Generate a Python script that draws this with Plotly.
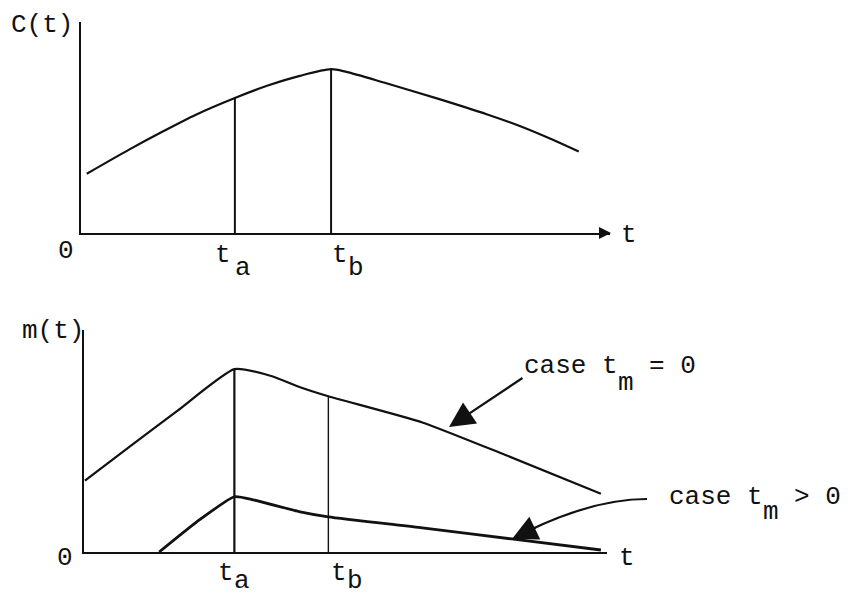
import plotly.graph_objects as go

W, H = 848, 596

# Characteristic times on the t axis
T_A = 3.2
T_B = 5.2

# Upper panel: C(t)
c_t = [0.12, 1.0, 1.7, 2.4, 3.2, 3.9, 4.55, 5.2, 5.5, 6.35, 7.4, 8.45, 9.15, 9.8, 10.35]
c_val = [2.95, 4.15, 5.05, 5.9, 6.72, 7.35, 7.82, 8.15, 8.03, 7.45, 6.7, 5.9, 5.3, 4.65, 4.05]

# Lower panel: m(t), case t_m = 0
m0_t = [0.02, 1.0, 2.0, 3.2, 4.0, 4.6, 5.2, 7.2, 9.0, 11.0]
m0_val = [3.55, 5.3, 7.05, 9.1, 8.75, 8.2, 7.75, 6.45, 4.8, 2.9]

# Lower panel: m(t), case t_m > 0
m1_t = [1.6, 2.4, 3.2, 3.6, 4.6, 5.2, 7.2, 9.1, 11.0]
m1_val = [0.0, 1.5, 2.75, 2.6, 2.0, 1.75, 1.2, 0.65, 0.1]

INK = "#111111"
FONT = "Liberation Mono, Courier New, monospace"
FS = 26
CW = FS * 0.6  # monospace advance width


def px(x):
    return x / W


def py(y):
    return 1 - y / H


def value_at(ts, vs, t):
    return vs[ts.index(t)]


fig = go.Figure()

guide = dict(mode="lines", hoverinfo="skip", showlegend=False)

# C(t) curve and its guides at t_a, t_b
fig.add_trace(go.Scatter(x=c_t, y=c_val, xaxis="x", yaxis="y", mode="lines",
                         line=dict(color=INK, width=2.2, shape="spline", smoothing=0.8),
                         hoverinfo="skip", showlegend=False))
for t in (T_A, T_B):
    fig.add_trace(go.Scatter(x=[t, t], y=[0, value_at(c_t, c_val, t)], xaxis="x", yaxis="y",
                             line=dict(color=INK, width=2), **guide))

# m(t) curves and guides
fig.add_trace(go.Scatter(x=m0_t, y=m0_val, xaxis="x2", yaxis="y2", mode="lines",
                         line=dict(color=INK, width=2.2, shape="spline", smoothing=0.5),
                         hoverinfo="skip", showlegend=False))
fig.add_trace(go.Scatter(x=m1_t, y=m1_val, xaxis="x2", yaxis="y2", mode="lines",
                         line=dict(color=INK, width=2.8, shape="spline", smoothing=0.5),
                         hoverinfo="skip", showlegend=False))
fig.add_trace(go.Scatter(x=[T_A, T_A], y=[-0.15, value_at(m0_t, m0_val, T_A)], xaxis="x2", yaxis="y2",
                         line=dict(color=INK, width=2.2), **guide))
fig.add_trace(go.Scatter(x=[T_B, T_B], y=[0, value_at(m0_t, m0_val, T_B)], xaxis="x2", yaxis="y2",
                         line=dict(color=INK, width=1.4), **guide))

axis_common = dict(showgrid=False, zeroline=False, showticklabels=False, ticks="",
                   showline=True, linecolor=INK, linewidth=2, fixedrange=True)

annotations = []


def text(s, x, y, xref="paper", xshift=0, xanchor="center"):
    annotations.append(dict(text=s, x=x, y=py(y), xref=xref, yref="paper", xshift=xshift,
                            xanchor=xanchor, yanchor="middle", showarrow=False,
                            borderpad=0, borderwidth=0,
                            font=dict(family=FONT, size=FS, color=INK)))


# Upper panel labels
text("C(t)", px(42), 25)
text("0", 0, 251, xref="x", xshift=-15)
text("t", T_A, 255, xref="x", xshift=-4, xanchor="right")
text("a", T_A, 268, xref="x", xshift=0, xanchor="left")
text("t", T_B, 255, xref="x", xshift=1, xanchor="left")
text("b", T_B, 268, xref="x", xshift=1 + CW, xanchor="left")
text("t", px(629), 235)

# Lower panel labels
text("m(t)", px(53), 331)
text("0", 0, 558, xref="x2", xshift=-19)
text("t", T_A, 573, xref="x2", xshift=0, xanchor="right")
text("a", T_A, 580.5, xref="x2", xshift=0, xanchor="left")
text("t", T_B, 573, xref="x2", xshift=3, xanchor="left")
text("b", T_B, 580.5, xref="x2", xshift=3 + CW, xanchor="left")
text("t", px(627), 558)

# Case labels with lowered subscript m
text("case t", px(524), 366, xanchor="left")
text("m", px(524 + 6 * CW), 383, xanchor="left")
text("= 0", px(524 + 8 * CW), 366, xanchor="left")
text("case t", px(669), 497, xanchor="left")
text("m", px(669 + 6 * CW), 512, xanchor="left")
text("> 0", px(669 + 8 * CW), 497, xanchor="left")

# Pointer arrows
annotations.append(dict(text="", x=px(449), y=py(427), xref="paper", yref="paper",
                        ax=75, ay=-50, showarrow=True, arrowhead=2, arrowsize=2.3,
                        arrowwidth=2.2, arrowcolor=INK))
annotations.append(dict(text="", x=px(512), y=py(539), xref="paper", yref="paper",
                        ax=25, ay=-12, showarrow=True, arrowhead=2, arrowsize=2.3,
                        arrowwidth=2.2, arrowcolor=INK))
# Arrowhead at the end of the upper t axis
annotations.append(dict(text="", x=px(611), y=py(233), xref="paper", yref="paper",
                        ax=-12, ay=0, showarrow=True, arrowhead=2, arrowsize=1.2,
                        arrowwidth=2, arrowcolor=INK))

shapes = [dict(type="path", xref="paper", yref="paper",
               path=f"M {px(647)},{py(499)} Q {px(595)},{py(499)} {px(530)},{py(530)}",
               line=dict(color=INK, width=2.2))]

fig.update_layout(
    width=W, height=H,
    margin=dict(l=0, r=0, t=0, b=0),
    paper_bgcolor="white", plot_bgcolor="white",
    showlegend=False,
    xaxis=dict(domain=[px(81), px(610)], range=[0, 11], anchor="y", **axis_common),
    yaxis=dict(domain=[py(233), py(22)], range=[0, 10.5], anchor="x", **axis_common),
    xaxis2=dict(domain=[px(84), px(607)], range=[0, 11.13], anchor="y2", **axis_common),
    yaxis2=dict(domain=[py(552), py(330)], range=[0, 11.05], anchor="x2", **axis_common),
    annotations=annotations,
    shapes=shapes,
)

fig.write_html("out.html")
